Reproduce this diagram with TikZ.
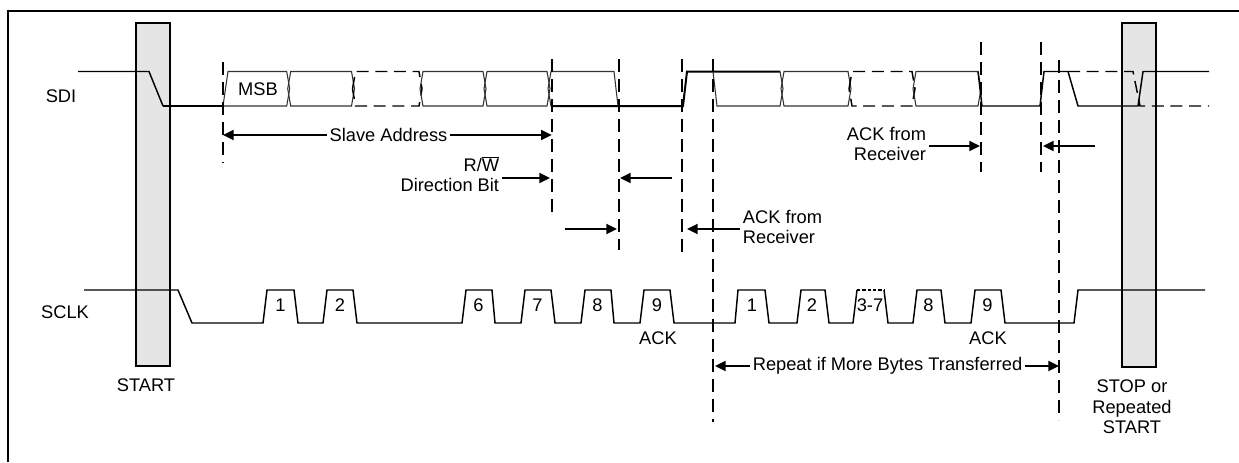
\documentclass[tikz,border=0pt]{standalone}
\usepackage{fontspec}
\setmainfont{Liberation Sans}
\usetikzlibrary{arrows.meta}

\begin{document}
\begin{tikzpicture}[x=0.75pt,y=-0.75pt]

\tikzset{sig/.style={line width=1.1pt,black},}
\tikzset{siglow/.style={line width=1.5pt,black},}
\tikzset{clk/.style={line width=1.1pt,black},}
\tikzset{cell/.style={line width=0.8pt,black!80},}
\tikzset{cellopen/.style={line width=1.1pt,black,dash pattern=on 9pt off 5pt},}
\tikzset{guide/.style={line width=1.5pt,dash pattern=on 9.5pt off 5.5pt},}
\tikzset{bar/.style={draw,line width=1.5pt,fill=black!10},}
\tikzset{arr/.style={-{Triangle[length=8pt,width=7.5pt]},line width=1.5pt},}
\tikzset{txt/.style={inner sep=2pt,font=\fontsize{13.7pt}{15.5pt}\selectfont},}

\useasboundingbox (0,0) rectangle (1239,462);
\draw[line width=1.5pt] (8,462) -- (8,10.7) -- (1239,10.7);

%START / STOP
\draw[bar] (135.7,22.7) rectangle (170,365.7);
\draw[bar] (1121.7,23.3) rectangle (1156,366.7);
\draw (146,385) node[txt] (start) {START};
\draw (1132,407) node[txt,align=center] (stop) {STOP or\\Repeated\\START};

%SDI
\draw (61,96) node[txt] (sdi) {SDI};
\draw[sig] (78,71.5) -- (149,71.5) -- (163,106);
\draw[siglow] (163,106) -- (223,106);
\draw[cell] (223,106) -- (228,71.5) -- (286.7,71.5) -- (289.7,88.75) -- (286.7,106) -- cycle;
\draw (258,89) node[txt] (msb) {MSB};
\draw[cell] (287.7,88.75) -- (290.7,71.5) -- (351.5,71.5) -- (354.5,88.75) -- (351.5,106) -- (290.7,106) -- cycle;
\draw[cellopen] (352.5,88.75) -- (355.5,71.5) -- (419,71.5) -- (422,88.75) -- (419,106) -- (355.5,106) -- cycle;
\draw[cell] (420,88.75) -- (423,71.5) -- (483,71.5) -- (486,88.75) -- (483,106) -- (423,106) -- cycle;
\draw[cell] (484,88.75) -- (487,71.5) -- (547,71.5) -- (550,88.75) -- (547,106) -- (487,106) -- cycle;
\draw[cell] (548,88.75) -- (551,71.5) -- (614,71.5) -- (618,106) -- (551,106) -- cycle;
\draw[siglow] (551,106) -- (683,106) -- (687,71.5) -- (780,71.5);
\draw[cell] (713,71.5) -- (717,106) -- (780,106) -- (783,88.75) -- (780,71.5);
\draw[cell] (781,88.75) -- (784,71.5) -- (848,71.5) -- (851,88.75) -- (848,106) -- (784,106) -- cycle;
\draw[cellopen] (849,88.75) -- (852,71.5) -- (912,71.5) -- (915,88.75) -- (912,106) -- (852,106) -- cycle;
\draw[cell] (913,88.75) -- (916,71.5) -- (978,71.5) -- (981,88.75) -- (978,106) -- (916,106) -- cycle;
\draw[sig] (978,71.5) -- (982,106) -- (1040,106) -- (1044,71.5) -- (1068,71.5) -- (1078,106) -- (1138,106) -- (1143,71.5) -- (1209,71.5);
\draw[cellopen] (1068,71.5) -- (1133,71.5) -- (1140,106) -- (1209,106);

%guides
\draw[guide] (223,62) -- (223,163);
\draw[guide] (551.7,59) -- (551.7,215);
\draw[guide] (619,59) -- (619,250);
\draw[guide] (682.3,59) -- (682.3,257);
\draw[guide] (712.7,59) -- (712.7,422);
\draw[guide] (981,42) -- (981,172);
\draw[guide] (1040.7,42) -- (1040.7,172);
\draw[guide] (1059.3,60) -- (1059.3,420);

%arrows
\draw (388.5,135) node[txt] (slave) {Slave Address};
\coordinate (slaveL) at (223,135);
\coordinate (slaveR) at (551.7,135);
\draw[arr] (slave) -- (slaveL);
\draw[arr] (slave) -- (slaveR);

\draw (502,174) node[txt,anchor=east,align=right] (rw) {R/$\overline{\mbox{W}}$\\Direction Bit};
\coordinate (rwtip) at (550,178);
\draw[arr] (rw.east |- rwtip) -- (rwtip);

\coordinate (nackA) at (672,178);
\coordinate (nackAtip) at (620,178);
\draw[arr] (nackA) -- (nackAtip);
\coordinate (nackB) at (565,229);
\coordinate (nackBtip) at (617,229);
\draw[arr] (nackB) -- (nackBtip);

\draw (740,227) node[txt,anchor=west,align=left] (ackrxA) {ACK from\\Receiver};
\coordinate (ackrxAtip) at (687,229);
\draw[arr] (ackrxA.west |- ackrxAtip) -- (ackrxAtip);

\draw (929,144) node[txt,anchor=east,align=right] (ackrxB) {ACK from\\Receiver};
\coordinate (ackrxBtip) at (980,146);
\draw[arr] (ackrxB.east |- ackrxBtip) -- (ackrxBtip);
\coordinate (nackC) at (1095,146);
\coordinate (nackCtip) at (1043,146);
\draw[arr] (nackC) -- (nackCtip);

%SCLK
\draw (65,312) node[txt] (sclk) {SCLK};
\draw[clk] (84,290) -- (178,290) -- (192,323) -- (263,323) -- (267,290) -- (294,290) -- (298,323) -- (323,323) -- (327,290) -- (353,290) -- (357,323) -- (462,323) -- (466,290) -- (492,290) -- (495,323) -- (521,323) -- (525,290) -- (551,290) -- (555,323) -- (581,323) -- (585,290) -- (611,290) -- (614,323) -- (640,323) -- (644,290) -- (670,290) -- (674,323) -- (735,323) -- (738,290) -- (765,290) -- (769,323) -- (797,323) -- (801,290) -- (825,290) -- (829,323) -- (853,323) -- (857,290);
\draw[clk,dash pattern=on 2.5pt off 1.5pt] (857,290) -- (884,290);
\draw[clk] (884,290) -- (888,323) -- (913,323) -- (917,290) -- (941,290) -- (945,323) -- (971,323) -- (975,290) -- (1001,290) -- (1005,323) -- (1074,323) -- (1078,290) -- (1205,290);

\draw (280.5,305) node[txt] (clkA1) {1};
\draw (340,305) node[txt] (clkA2) {2};
\draw (478.5,305) node[txt] (clkA6) {6};
\draw (537.5,305) node[txt] (clkA7) {7};
\draw (597.5,305) node[txt] (clkA8) {8};
\draw (657,305) node[txt] (clkA9) {9};
\draw (752,305) node[txt] (clkB1) {1};
\draw (812,305) node[txt] (clkB2) {2};
\draw (870,305) node[txt] (clkB3) {3-7};
\draw (928.5,305) node[txt] (clkB8) {8};
\draw (987.5,305) node[txt] (clkB9) {9};
\draw (658,338) node[txt] (ackA) {ACK};
\draw (988,338) node[txt] (ackB) {ACK};

\draw (887.5,366) node[txt] (repeat) {Repeat if More Bytes Transferred};
\coordinate (repeatL) at (715,366);
\coordinate (repeatR) at (1059,366);
\draw[arr] (repeat) -- (repeatL);
\draw[arr] (repeat) -- (repeatR);

\end{tikzpicture}
\end{document}
